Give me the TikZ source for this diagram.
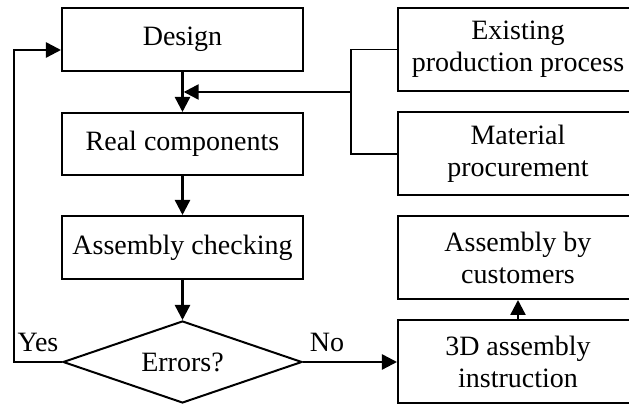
\documentclass[tikz,border=0pt]{standalone}
\usepackage{fontspec}
\setmainfont{Liberation Serif}
\usetikzlibrary{positioning}
\usetikzlibrary{shapes.geometric}
\usetikzlibrary{arrows.meta}

\begin{document}
\begin{tikzpicture}[x=0.5pt, y=-0.5pt,
		font=\fontsize{14}{16}\selectfont,
		box/.style={draw, rectangle, line width=1pt, align=center, inner sep=0pt, minimum width=120.5pt},
		sidebox/.style={draw, rectangle, line width=1pt, align=center, inner sep=0pt, minimum width=120pt, minimum height=41.5pt},
		decision/.style={draw, diamond, line width=1pt, inner sep=0pt, aspect=2.9, minimum width=119.5pt, minimum height=41pt},
		flow/.style={line width=1.2pt, -{Triangle[length=7.5pt, width=7.5pt]}},
		bracket/.style={line width=0.6pt}]
		\useasboundingbox (0, 0) rectangle (629, 405);
		\clip (0, 0) rectangle (629, 405);

		\node[box, minimum height=31.5pt] (design) at (182.5, 39.5) {Design};
		\node[box, minimum height=31pt] (real) at (182.5, 144) {Real components};
		\node[box, minimum height=31.5pt] (check) at (182.5, 247.5) {Assembly checking};
		\node[decision] (errors) at (182.5, 362) {Errors?};

		\node[sidebox] (existing) at (518, 49.5) {Existing\\production process};
		\node[sidebox] (material) at (518, 154) {Material\\procurement};
		\node[sidebox] (customers) at (518, 257.5) {Assembly by\\customers};
		\node[sidebox] (instruction) at (518, 362) {3D assembly\\instruction};

		\coordinate (bx) at (351, 92);
		\coordinate (back) at (14, 50);

		\path[draw, flow] (design) -- (real);
		\path[draw, flow] (real) -- (check);
		\path[draw, flow] (check) -- (errors);
		\path[draw, flow] (errors) -- (instruction);
		\path[draw, flow] (instruction) -- (customers);
		\path[draw, flow] (errors.west) -| (back) -- (back -| design.west);
		\path[draw, bracket] (existing.west) -| (bx) |- (material.west);
		\path[draw, flow, shorten >=0.6pt] (bx) -- (bx -| design.south);

		\node[anchor=base] (yes) at (38, 352) {Yes};
		\node[anchor=base] (no) at (327, 352) {No};
\end{tikzpicture}
\end{document}
